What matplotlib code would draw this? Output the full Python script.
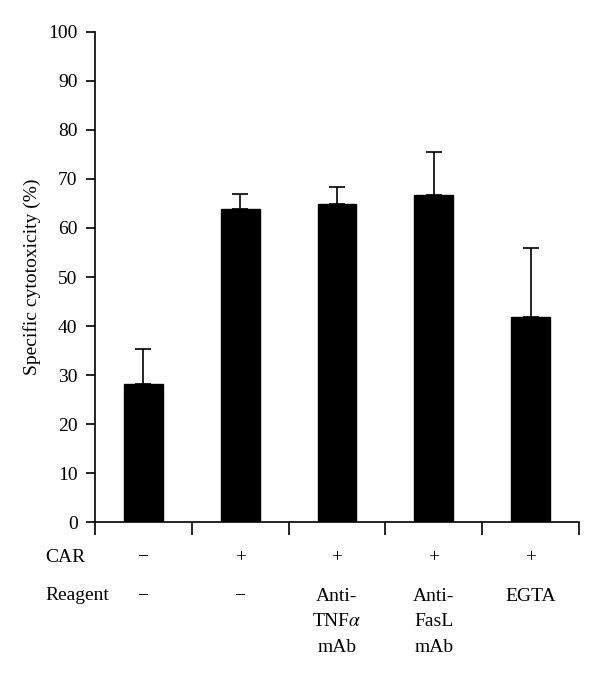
import matplotlib.pyplot as plt
from matplotlib.transforms import blended_transform_factory

plt.rcParams['font.family'] = ['Liberation Serif', 'DejaVu Serif']
plt.rcParams['mathtext.fontset'] = 'stix'

# data
groups = [1, 2, 3, 4, 5]
cytotoxicity = [28.2, 63.9, 64.8, 66.8, 41.9]
err_upper = [7.1, 3.0, 3.5, 8.6, 14.0]
car = ['\u2212', '+', '+', '+', '+']
reagent = ['\u2212', '\u2212', 'Anti-\nTNF$\\alpha$\nmAb', 'Anti-\nFasL\nmAb', 'EGTA']
yticks = [0, 10, 20, 30, 40, 50, 60, 70, 80, 90, 100]

fs = 14

fig = plt.figure(figsize=(6, 6.81), dpi=100)
ax = fig.add_axes([0.1583, 0.2330, 0.8067, 0.7204])

ax.bar(groups, cytotoxicity, width=0.4, color='black', edgecolor='black', zorder=2)
ax.errorbar(groups, cytotoxicity, yerr=[[0] * len(groups), err_upper], fmt='none',
            ecolor='black', elinewidth=1.2, capsize=5.8, capthick=1.2, zorder=1)

ax.set_xlim(0.5, 5.5)
ax.set_ylim(0, 100)
ax.set_yticks(yticks)
ax.set_xticks([0.5, 1.5, 2.5, 3.5, 4.5, 5.5])
ax.set_xticklabels([])
ax.spines['top'].set_visible(False)
ax.spines['right'].set_visible(False)
for s in ['left', 'bottom']:
    ax.spines[s].set_linewidth(1.2)
ax.tick_params(axis='y', direction='out', length=6.5, width=1.2, labelsize=fs, pad=6)
ax.tick_params(axis='x', direction='out', length=9.5, width=1.2)
ax.set_ylabel('Specific cytotoxicity (%)', fontsize=fs, labelpad=5)

trans = blended_transform_factory(ax.transData, fig.transFigure)
fig.text(45.7 / 600, 1 - 557.7 / 681, 'CAR', fontsize=fs, ha='left', va='center')
fig.text(45.7 / 600, 1 - 596 / 681, 'Reagent', fontsize=fs, ha='left', va='center')
for g, c, r in zip(groups, car, reagent):
    ax.text(g, 1 - 557.7 / 681, c, transform=trans, fontsize=fs, ha='center', va='center')
    ax.text(g, 1 - 588 / 681, r, transform=trans, fontsize=fs, ha='center', va='top',
            linespacing=1.65)

fig.savefig('out.png', dpi=100)
